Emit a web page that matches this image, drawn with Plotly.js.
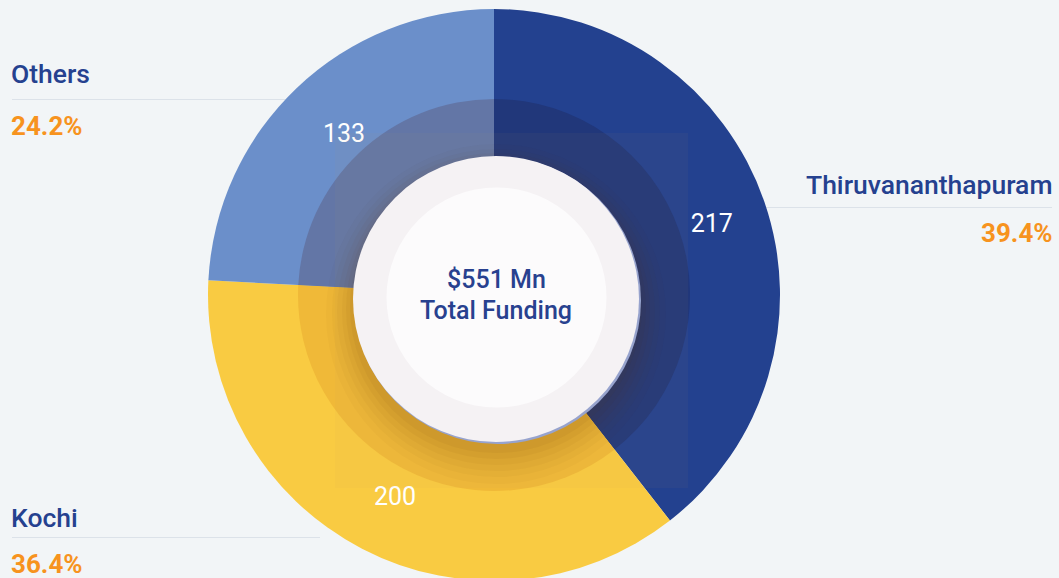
<!DOCTYPE html>
<html>
<head>
<meta charset="utf-8">
<script src="https://cdn.plot.ly/plotly-3.0.1.min.js"></script>
<style>
html,body{margin:0;padding:0;overflow:hidden;background:#F2F5F7;}
#chart{width:1059px;height:600px;}
</style>
</head>
<body>
<div id="chart"></div>
<script>
// ---- data ----
var cities = ['Thiruvananthapuram', 'Kochi', 'Others'];
var funding = [217, 200, 133];
var shareLabels = ['39.4%', '36.4%', '24.2%'];
var totalLabel = '$551 Mn';
var totalCaption = 'Total Funding';

// ---- styling ----
var outerColors = ['#23418F', '#F9CB42', '#6B8FCA'];
var innerColors = ['#21377A', '#F0B938', '#6376A6'];
var W = 1059, H = 600;
function px(x){ return x / W; }
function py(y){ return 1 - y / H; }

var cx = 494, cy = 295, R = 286, Rin = 196;
var lx = cx + 5, ly = cy + 1.5;

var outerPie = {
  type: 'pie', labels: cities, values: funding, sort: false,
  direction: 'clockwise', rotation: 0,
  marker: {colors: outerColors, line: {width: 0}},
  textinfo: 'none', hoverinfo: 'none', showlegend: false,
  domain: {x: [px(cx - R), px(cx + R)], y: [py(cy + R), py(cy - R)]}
};
var innerPie = {
  type: 'pie', labels: cities, values: funding, sort: false,
  direction: 'clockwise', rotation: 0,
  marker: {colors: innerColors, line: {width: 0}},
  textinfo: 'none', hoverinfo: 'none', showlegend: false,
  domain: {x: [px(cx - Rin), px(cx + Rin)], y: [py(cy + Rin), py(cy - Rin)]}
};
var labelPie = {
  type: 'pie', labels: cities, values: funding, sort: false,
  direction: 'clockwise', rotation: 0, hole: 0.574,
  marker: {colors: ['rgba(0,0,0,0)', 'rgba(0,0,0,0)', 'rgba(0,0,0,0)'], line: {width: 0}},
  texttemplate: '%{value}', textposition: 'inside', insidetextorientation: 'horizontal',
  textfont: {family: 'Roboto', size: 25, color: '#FFFFFF'},
  hoverinfo: 'none', showlegend: false,
  domain: {x: [px(lx - R), px(lx + R)], y: [py(ly + R), py(ly - R)]}
};

function circ(x, y, r, fill, layer){
  return {type: 'circle', xref: 'paper', yref: 'paper', layer: layer || 'above',
    x0: px(x - r), x1: px(x + r), y0: py(y + r), y1: py(y - r),
    fillcolor: fill, line: {width: 0}};
}
function hline(x0, x1, y){
  return {type: 'line', xref: 'paper', yref: 'paper', layer: 'below',
    x0: px(x0), x1: px(x1), y0: py(y), y1: py(y), line: {color: '#DCE2E9', width: 1}};
}

var shapes = [
  hline(12, 320, 99.5),
  hline(740, 1052, 207.5),
  hline(12, 320, 537.5),
  {type: 'rect', xref: 'paper', yref: 'paper', layer: 'above',
   x0: px(335), x1: px(688), y0: py(488), y1: py(133),
   fillcolor: 'rgba(200,150,90,0.05)', line: {width: 0}}
];
// soft shadow below the centre disc
var shadowSteps = [[170, 314, 0.025], [164, 313, 0.03], [159, 312, 0.035], [154, 311, 0.04], [150, 309, 0.045], [146, 307, 0.05]];
shadowSteps.forEach(function(s){ shapes.push(circ(496, s[1], s[0], 'rgba(100,55,10,' + s[2] + ')')); });
shapes.push(circ(497.5, 300.5, 143.5, '#97A3CD'));
shapes.push(circ(496, 299, 143, '#F5F2F4'));
shapes.push(circ(496.5, 297.5, 110, '#FCFBFC'));

var nameFont = {family: 'Roboto', size: 26.5, color: '#25418F', weight: 500};
var pctFont = {family: 'Roboto', size: 26, color: '#F7931E', weight: 700};
function ann(text, x, y, xanchor, font){
  return {text: text, x: px(x), y: py(y), xref: 'paper', yref: 'paper',
    xanchor: xanchor, yanchor: 'middle', showarrow: false, font: font, borderpad: 0};
}
var annotations = [
  ann(cities[2], 10, 73.5, 'left', nameFont),
  ann(shareLabels[2], 10, 126, 'left', pctFont),
  ann(cities[0], 1054, 184, 'right', nameFont),
  ann(shareLabels[0], 1054, 233, 'right', pctFont),
  ann(cities[1], 10, 517, 'left', nameFont),
  ann(shareLabels[1], 10, 563.5, 'left', pctFont),
  ann(totalLabel, 496, 279, 'center', {family: 'Roboto', size: 25, color: '#28418F', weight: 500}),
  ann(totalCaption, 496, 310, 'center', {family: 'Roboto', size: 25, color: '#28418F', weight: 500})
];

var layout = {
  width: W, height: H,
  margin: {l: 0, r: 0, t: 0, b: 0},
  paper_bgcolor: '#F2F5F7', plot_bgcolor: '#F2F5F7',
  showlegend: false,
  shapes: shapes,
  annotations: annotations
};

Plotly.newPlot('chart', [outerPie, innerPie, labelPie], layout, {displayModeBar: false, staticPlot: true});
</script>
</body>
</html>
